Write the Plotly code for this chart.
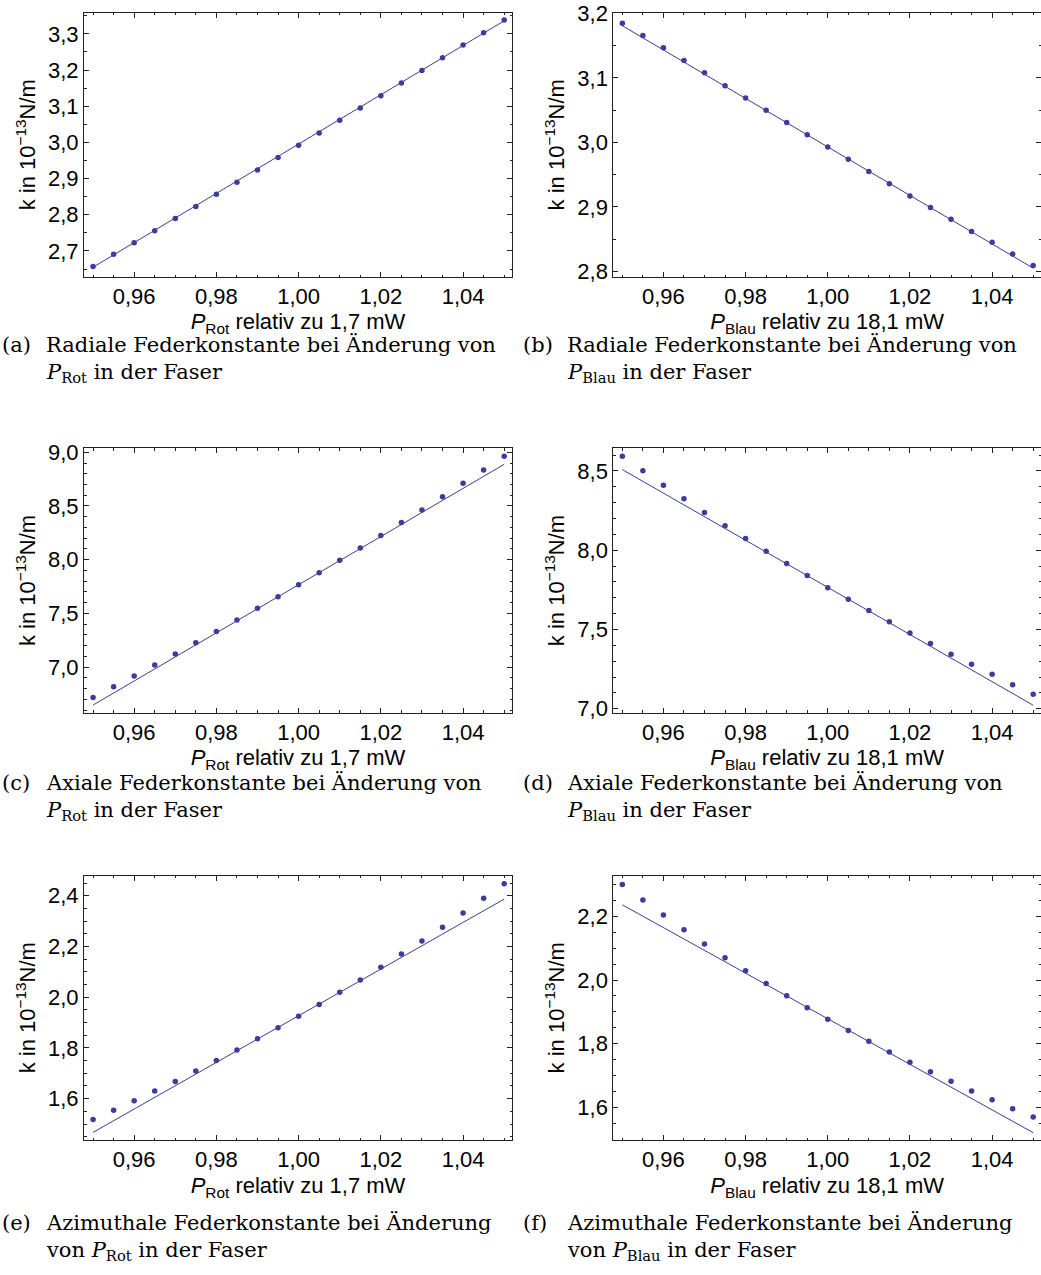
import plotly.graph_objects as go

# Relative laser power (normalised to the reference power)
p_rel = [0.950, 0.955, 0.960, 0.965, 0.970, 0.975, 0.980, 0.985, 0.990, 0.995,
         1.000, 1.005, 1.010, 1.015, 1.020, 1.025, 1.030, 1.035, 1.040, 1.045, 1.050]

# Spring constants in 1e-13 N/m
k_radial_rot = [2.657, 2.691, 2.723, 2.756, 2.790, 2.823, 2.857, 2.890, 2.924, 2.958,
                2.992, 3.026, 3.061, 3.095, 3.129, 3.164, 3.199, 3.234, 3.269, 3.303, 3.338]
k_radial_blau = [3.185, 3.166, 3.147, 3.127, 3.108, 3.088, 3.069, 3.050, 3.031, 3.012,
                 2.993, 2.974, 2.955, 2.936, 2.917, 2.899, 2.881, 2.862, 2.845, 2.827, 2.809]
k_axial_rot = [6.717, 6.817, 6.916, 7.019, 7.121, 7.227, 7.332, 7.438, 7.547, 7.655,
               7.767, 7.879, 7.994, 8.109, 8.224, 8.345, 8.463, 8.587, 8.711, 8.835, 8.963]
k_axial_blau = [8.593, 8.501, 8.410, 8.324, 8.238, 8.154, 8.074, 7.994, 7.916, 7.840,
                7.764, 7.691, 7.619, 7.548, 7.478, 7.411, 7.344, 7.281, 7.217, 7.152, 7.091]
k_azim_rot = [1.518, 1.554, 1.592, 1.630, 1.668, 1.709, 1.750, 1.792, 1.836, 1.880,
              1.925, 1.971, 2.020, 2.068, 2.118, 2.170, 2.222, 2.276, 2.332, 2.390, 2.447]
k_azim_blau = [2.300, 2.251, 2.204, 2.158, 2.113, 2.070, 2.029, 1.989, 1.951, 1.913,
               1.877, 1.842, 1.808, 1.774, 1.742, 1.712, 1.682, 1.652, 1.624, 1.596, 1.570]

# Linear model: values at both ends of the power range
fit_p = [0.95, 1.05]
fit_radial_rot = [2.655, 3.336]
fit_radial_blau = [3.181, 2.805]
fit_axial_rot = [6.646, 8.888]
fit_axial_blau = [8.509, 7.022]
fit_azim_rot = [1.467, 2.387]
fit_azim_blau = [2.236, 1.521]

x_titles = ["<i>P</i><sub>Rot</sub> relativ zu 1,7 mW",
            "<i>P</i><sub>Blau</sub> relativ zu 18,1 mW"]
y_title = "k in 10<sup>−13</sup>N/m"

captions = [
    ("(a)", "Radiale Federkonstante bei Änderung von", "<i>P</i><sub>Rot</sub> in der Faser"),
    ("(b)", "Radiale Federkonstante bei Änderung von", "<i>P</i><sub>Blau</sub> in der Faser"),
    ("(c)", "Axiale Federkonstante bei Änderung von", "<i>P</i><sub>Rot</sub> in der Faser"),
    ("(d)", "Axiale Federkonstante bei Änderung von", "<i>P</i><sub>Blau</sub> in der Faser"),
    ("(e)", "Azimuthale Federkonstante bei Änderung", "von <i>P</i><sub>Rot</sub> in der Faser"),
    ("(f)", "Azimuthale Federkonstante bei Änderung", "von <i>P</i><sub>Blau</sub> in der Faser"),
]

series = [k_radial_rot, k_radial_blau, k_axial_rot, k_axial_blau, k_azim_rot, k_azim_blau]
fits = [fit_radial_rot, fit_radial_blau, fit_axial_rot, fit_axial_blau, fit_azim_rot, fit_azim_blau]
y_ranges = [[2.628, 3.359], [2.7913, 3.2015], [6.575, 9.037],
            [6.975, 8.643], [1.437, 2.480], [1.498, 2.328]]
y_major = [0.1, 0.1, 0.5, 0.5, 0.2, 0.2]
y_minor = [0.05, 0.05, 0.1, 0.1, 0.05, 0.05]

W, H = 1041, 1275
col_px = [(84, 512), (613.3, 1041)]
row_px = [(12.5, 277), (448.3, 712.7), (875.5, 1140)]
caption_y = [345, 783, 1223]
x_title_standoff = [0, 5, 6]
x_range = [0.9478, 1.0519]

MARK = "#3c3c9a"
FRAME = "#222222"
SANS = "Liberation Sans, Arial, sans-serif"
SERIF = "DejaVu Serif, serif"

fig = go.Figure()
layout = {}
annotations = []

for i in range(6):
    r, c = divmod(i, 2)
    xa = "x" if i == 0 else f"x{i+1}"
    ya = "y" if i == 0 else f"y{i+1}"
    fig.add_trace(go.Scatter(x=fit_p, y=fits[i], mode="lines",
                             line=dict(color=MARK, width=1), xaxis=xa, yaxis=ya,
                             showlegend=False))
    fig.add_trace(go.Scatter(x=p_rel, y=series[i], mode="markers",
                             marker=dict(color=MARK, size=5.5), xaxis=xa, yaxis=ya,
                             showlegend=False))
    x0, x1 = col_px[c]
    y0, y1 = row_px[r]
    common = dict(showline=True, linecolor=FRAME, linewidth=1, mirror="ticks",
                  ticks="inside", ticklen=5, tickwidth=1, tickcolor=FRAME,
                  showgrid=False, zeroline=False, automargin=False,
                  tickfont=dict(family=SANS, size=22, color="black"))
    layout["xaxis" if i == 0 else f"xaxis{i+1}"] = dict(
        common, domain=[x0 / W, x1 / W], range=x_range, anchor=ya,
        tick0=0.96, dtick=0.02, tickformat=".2f",
        minor=dict(ticks="inside", ticklen=2.5, tickcolor=FRAME, tick0=0.95, dtick=0.005),
        title=dict(text=x_titles[c], font=dict(family=SANS, size=22, color="black"),
                   standoff=x_title_standoff[r]))
    layout["yaxis" if i == 0 else f"yaxis{i+1}"] = dict(
        common, domain=[1 - y1 / H, 1 - y0 / H], range=y_ranges[i], anchor=xa,
        tick0=0, dtick=y_major[i], tickformat=".1f",
        minor=dict(ticks="inside", ticklen=2.5, tickcolor=FRAME, tick0=0, dtick=y_minor[i]),
        title=dict(text=y_title, font=dict(family=SANS, size=22, color="black"),
                   standoff=6))

    # Sub-figure caption with hanging indent
    cap_x = 0 if c == 0 else 521
    line1_y = caption_y[r]
    for txt, dx, yy in ((captions[i][0], 0, line1_y), (captions[i][1], 44, line1_y),
                        (captions[i][2], 44, line1_y + 28)):
        annotations.append(dict(text=txt, x=(cap_x + dx) / W, y=1 - yy / H,
                                xref="paper", yref="paper", xanchor="left", yanchor="middle",
                                showarrow=False,
                                font=dict(family=SERIF, size=21, color="black")))

fig.update_layout(**layout)
fig.update_layout(template="none", width=W, height=H, margin=dict(l=0, r=0, t=0, b=0),
                  paper_bgcolor="white", plot_bgcolor="white",
                  separators=",.", annotations=annotations)

fig.write_html("out.html")
